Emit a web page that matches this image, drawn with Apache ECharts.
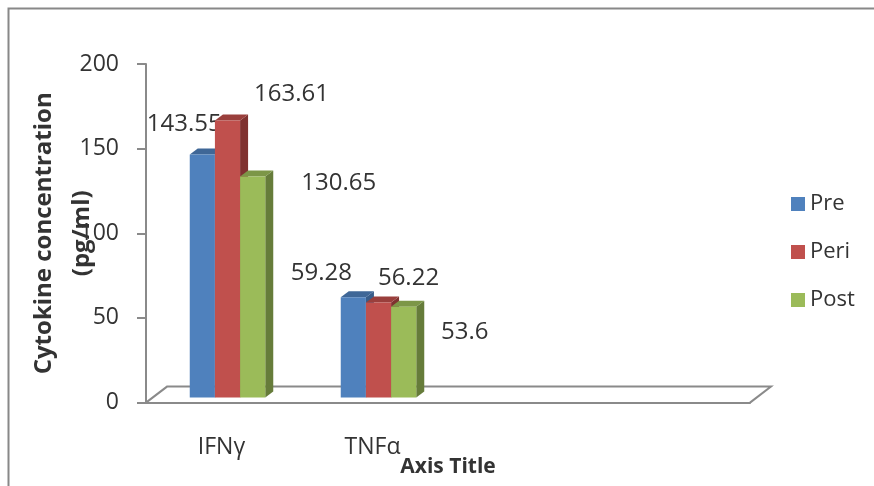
<!DOCTYPE html>
<html>
<head>
<meta charset="utf-8">
<style>html,body{margin:0;padding:0;background:#fff}#c{width:874px;height:486px}</style>
<script src="https://cdn.jsdelivr.net/npm/echarts@6/dist/echarts.min.js"></script>
</head>
<body>
<div id="c"></div>
<script>
const categories = ['IFNγ', 'TNFα', '', ''];
const tickLabels = [0, 50, 100, 150, 200];
const pre = [143.55, 59.28];
const peri = [163.61, 56.22];
const post = [130.65, 53.6];

const FONT = '"Open Sans", sans-serif';
const TEXT = '#333333';
const AXIS = '#8a8a8a';
const DEPTH_X = 8, DEPTH_Y = 6, LIFT = 5, SHIFT = 6;

const palette = [
  { name: 'Pre',  values: pre,  front: '#4F81BD', top: '#3F6797', side: '#385D8A',
    offsets: [[-18, -30], [-32, -24]] },
  { name: 'Peri', values: peri, front: '#C0504D', top: '#9A3F3C', side: '#7F3230',
    offsets: [[64, -26], [30, -24]] },
  { name: 'Post', values: post, front: '#9BBB59', top: '#7C9647', side: '#667C3A',
    offsets: [[86, 7], [61, 25]] }
];

function barRenderer(idx) {
  return function (params, api) {
    const cat = api.value(0);
    const val = api.value(1);
    const w = api.size([1, 0])[0] / 6;
    const c = api.coord([cat, val]);
    const b = api.coord([cat, 0]);
    const x0 = c[0] + SHIFT + (idx - 1.5) * w;
    const x1 = x0 + w;
    const yT = c[1] - LIFT;
    const yB = b[1] - LIFT;
    const st = palette[idx];
    const off = st.offsets[params.dataIndex];
    return {
      type: 'group',
      children: [
        { type: 'polygon', shape: { points: [[x1, yT], [x1 + DEPTH_X, yT - DEPTH_Y], [x1 + DEPTH_X, yB - DEPTH_Y], [x1, yB]] }, style: { fill: st.side } },
        { type: 'polygon', shape: { points: [[x0, yT], [x0 + DEPTH_X, yT - DEPTH_Y], [x1 + DEPTH_X, yT - DEPTH_Y], [x1, yT]] }, style: { fill: st.top } },
        { type: 'rect', shape: { x: x0, y: yT, width: w, height: yB - yT }, style: { fill: st.front } },
        { type: 'text', z2: 100, x: x0 + w / 2 + off[0], y: yT + off[1],
          style: { text: String(val), fill: TEXT, font: '24px ' + FONT, align: 'center', verticalAlign: 'middle' } }
      ]
    };
  };
}

function floorRenderer(params, api) {
  const band = api.size([1, 0])[0];
  const first = api.coord([0, 0]);
  const a = [first[0] - band / 2, first[1]];
  const b = [a[0] + band * categories.length, first[1]];
  const dx = 21, dy = 16;
  return {
    type: 'polyline',
    shape: { points: [a, [a[0] + dx, a[1] - dy], [b[0] + dx, b[1] - dy], b] },
    style: { fill: 'none', stroke: AXIS, lineWidth: 2 }
  };
}

const chart = echarts.init(document.getElementById('c'), null, { renderer: 'canvas' });
chart.setOption({
  animation: false,
  backgroundColor: '#ffffff',
  graphic: [{
    type: 'polyline', silent: true,
    shape: { points: [[8.5, 486], [8.5, 8.5], [874, 8.5]] },
    style: { fill: 'none', stroke: '#888888', lineWidth: 2 }
  }],
  grid: { left: 146, top: 64, width: 604, height: 338.6, outerBoundsMode: 'none' },
  legend: {
    data: palette.map(p => p.name),
    orient: 'vertical', left: 786, top: 188,
    itemWidth: 14, itemHeight: 14, itemGap: 26, icon: 'rect',
    textStyle: { fontFamily: FONT, fontSize: 22, color: TEXT }
  },
  xAxis: {
    type: 'category', data: categories,
    axisLine: { lineStyle: { color: AXIS, width: 2 } },
    axisTick: { show: false },
    axisLabel: { fontFamily: FONT, fontSize: 23, color: TEXT, margin: 33, interval: 0 },
    name: 'Axis Title', nameLocation: 'middle', nameGap: 54, nameMoveOverlap: false,
    nameTextStyle: { fontFamily: FONT, fontSize: 21, fontWeight: 'bold', color: TEXT }
  },
  yAxis: {
    type: 'value', min: 0, max: 200, interval: 50,
    splitLine: { show: false },
    axisLine: { show: true, lineStyle: { color: AXIS, width: 2 } },
    axisTick: { show: true, length: 9, lineStyle: { color: AXIS, width: 2 } },
    axisLabel: { fontFamily: FONT, fontSize: 23, color: TEXT, margin: 27, padding: [9, 0, 0, 0],
      customValues: tickLabels },
    name: 'Cytokine concentration\n(pg/ml)', nameLocation: 'middle', nameGap: 45, nameMoveOverlap: false,
    nameTextStyle: { fontFamily: FONT, fontSize: 24, fontWeight: 'bold', color: TEXT, lineHeight: 38 }
  },
  series: [
    { type: 'custom', name: 'floor', silent: true, data: [[0, 0]], renderItem: floorRenderer, z: 1,
      encode: { x: 0, y: 1 } }
  ].concat(palette.map((p, i) => ({
    type: 'custom', name: p.name, z: 2 + i,
    itemStyle: { color: p.front },
    data: p.values.map((v, k) => [k, v]),
    encode: { x: 0, y: 1 },
    renderItem: barRenderer(i)
  })))
});
</script>
</body>
</html>
